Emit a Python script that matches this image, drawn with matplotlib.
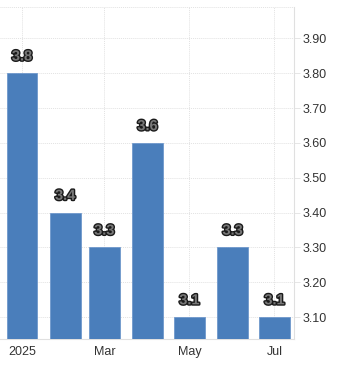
import numpy as np
import matplotlib
matplotlib.use("Agg")
import matplotlib.pyplot as plt
import matplotlib.dates as mdates
import matplotlib.patheffects as pe
from datetime import datetime, timedelta

months = ["2025-01-01", "2025-02-01", "2025-03-01", "2025-04-01",
          "2025-05-01", "2025-06-01", "2025-07-01"]
values = [3.8, 3.4, 3.3, 3.6, 3.1, 3.3, 3.1]
tick_dates = ["2025-01-01", "2025-03-01", "2025-05-01", "2025-07-01"]
tick_labels = ["2025", "Mar", "May", "Jul"]
y_ticks = [3.1, 3.2, 3.3, 3.4, 3.5, 3.6, 3.7, 3.8, 3.9]

plt.rcParams['font.family'] = ['Liberation Sans', 'DejaVu Sans']

dates = [datetime.strptime(d, "%Y-%m-%d") for d in months]
tdates = [datetime.strptime(d, "%Y-%m-%d") for d in tick_dates]

fig = plt.figure(figsize=(3.41, 3.66), dpi=100)
ax = fig.add_axes([0.0, 27 / 366, 294 / 341, 332 / 366])

bar_color = "#4a7ebb"
ax.bar(dates, values, width=21.9, color=bar_color, edgecolor="#6f98cc",
       linewidth=0.6, zorder=3)

for d, v in zip(dates, values):
    t = ax.annotate(f"{v:.1f}", (mdates.date2num(d), v), xytext=(0, 7),
                    textcoords="offset points", ha="center", va="bottom",
                    fontsize=10.5, fontweight="bold", color="#777777", zorder=5)
    t.set_path_effects([pe.withStroke(linewidth=2, foreground="#1a1a1a")])

ax.set_xlim(datetime(2025, 1, 1) - timedelta(days=15.8),
            datetime(2025, 7, 1) + timedelta(days=14))
ax.set_ylim(3.037, 3.99)

ax.yaxis.tick_right()
ax.set_yticks(y_ticks)
ax.set_yticklabels([f"{v:.2f}" for v in y_ticks])
ax.set_xticks(tdates)
ax.set_xticklabels(tick_labels)

ax.tick_params(axis="y", length=4, width=0.6, color="#e2e2e2", pad=2,
               labelsize=9, labelcolor="#333333")
ax.tick_params(axis="x", length=0, pad=5, labelsize=9, labelcolor="#333333")

ax.grid(True, linestyle=(0, (1, 1)), color="#e2e2e2", linewidth=0.7, zorder=0)
ax.axhline(3.99, color="#e2e2e2", linestyle=(0, (1, 1)), linewidth=0.7,
           clip_on=False)

for s in ["top", "left"]:
    ax.spines[s].set_visible(False)
ax.spines["right"].set_color("#e0e0e0")
ax.spines["bottom"].set_color("#e0e0e0")
ax.spines["right"].set_linewidth(0.8)
ax.spines["bottom"].set_linewidth(0.8)

fig.savefig("out.png", dpi=100)
